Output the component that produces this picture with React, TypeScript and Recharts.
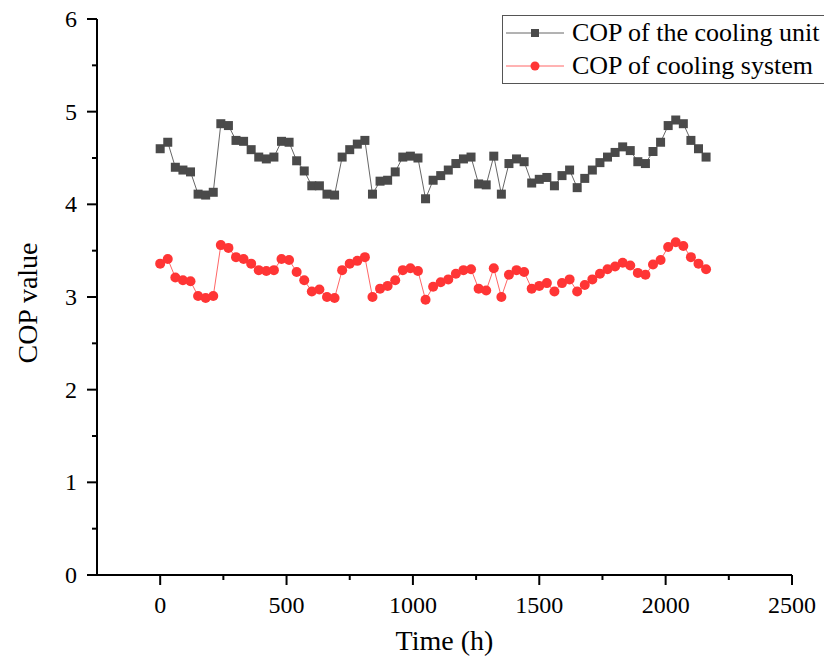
import { LineChart, Line, XAxis, YAxis } from 'recharts';

const times = [
  0, 30, 60, 90, 120, 150, 180, 210, 240, 270, 300, 330, 360, 390, 420, 450, 480, 510, 540, 570,
  600, 630, 660, 690, 720, 750, 780, 810, 840, 870, 900, 930, 960, 990, 1020, 1050, 1080, 1110,
  1140, 1170, 1200, 1230, 1260, 1290, 1320, 1350, 1380, 1410, 1440, 1470, 1500, 1530, 1560, 1590,
  1620, 1650, 1680, 1710, 1740, 1770, 1800, 1830, 1860, 1890, 1920, 1950, 1980, 2010, 2040, 2070,
  2100, 2130, 2160,
];

const copUnit = [
  4.6, 4.67, 4.4, 4.37, 4.35, 4.11, 4.1, 4.13, 4.87, 4.85, 4.69, 4.68, 4.59, 4.51, 4.49, 4.51,
  4.68, 4.67, 4.47, 4.36, 4.2, 4.2, 4.11, 4.1, 4.51, 4.59, 4.65, 4.69, 4.11, 4.25, 4.26, 4.35,
  4.51, 4.52, 4.5, 4.06, 4.26, 4.31, 4.37, 4.44, 4.49, 4.51, 4.22, 4.21, 4.52, 4.11, 4.44, 4.49,
  4.46, 4.23, 4.27, 4.29, 4.2, 4.31, 4.37, 4.18, 4.28, 4.37, 4.45, 4.51, 4.56, 4.62, 4.58, 4.46,
  4.44, 4.57, 4.67, 4.85, 4.91, 4.87, 4.69, 4.6, 4.51,
];

const copSystem = [
  3.36, 3.41, 3.21, 3.18, 3.17, 3.01, 2.99, 3.01, 3.56, 3.53, 3.43, 3.41, 3.36, 3.29, 3.28, 3.29,
  3.41, 3.4, 3.27, 3.18, 3.06, 3.08, 3.0, 2.99, 3.29, 3.36, 3.39, 3.43, 3.0, 3.09, 3.12, 3.18,
  3.29, 3.31, 3.28, 2.97, 3.11, 3.16, 3.19, 3.25, 3.29, 3.3, 3.09, 3.07, 3.31, 3.0, 3.24, 3.29,
  3.27, 3.09, 3.12, 3.15, 3.06, 3.15, 3.19, 3.06, 3.13, 3.19, 3.25, 3.3, 3.33, 3.37, 3.34, 3.26,
  3.24, 3.35, 3.4, 3.54, 3.59, 3.55, 3.43, 3.36, 3.3,
];

const xTicks = [0, 250, 500, 750, 1000, 1250, 1500, 1750, 2000, 2250, 2500];
const xLabels = [0, 500, 1000, 1500, 2000, 2500];
const yTicks = [0, 0.5, 1, 1.5, 2, 2.5, 3, 3.5, 4, 4.5, 5, 5.5, 6];
const yLabels = [0, 1, 2, 3, 4, 5, 6];

const data = times.map((t, i) => ({ time: t, unit: copUnit[i], system: copSystem[i] }));

const FONT = '"Liberation Serif", "Times New Roman", serif';
const UNIT_COLOR = '#4a4a4a';
const SYSTEM_COLOR = '#ff3535';
const TICK = 10;

const XTick = (props: any) => {
  const { x, y, payload } = props;
  const axisY = y - TICK;
  const major = xLabels.includes(payload.value);
  return (
    <g>
      <line x1={x} x2={x} y1={axisY} y2={axisY + (major ? 10 : 5)} stroke="#000" strokeWidth={2} />
      {major && (
        <text x={x} y={axisY + 38} textAnchor="middle" fontFamily={FONT} fontSize={24} fill="#000">
          {payload.value}
        </text>
      )}
    </g>
  );
};

const YTick = (props: any) => {
  const { x, y, payload } = props;
  const axisX = x + TICK;
  const major = yLabels.includes(payload.value);
  return (
    <g>
      <line x1={axisX - (major ? 10 : 5)} x2={axisX} y1={y} y2={y} stroke="#000" strokeWidth={2} />
      {major && (
        <text x={axisX - 20} y={y + 8} textAnchor="end" fontFamily={FONT} fontSize={24} fill="#000">
          {payload.value}
        </text>
      )}
    </g>
  );
};

const XTitle = (props: any) => {
  const { viewBox } = props;
  return (
    <text
      x={viewBox.x + viewBox.width / 2}
      y={viewBox.y + 65}
      textAnchor="middle"
      dominantBaseline="central"
      fontFamily={FONT}
      fontSize={28}
      fill="#000"
    >
      Time (h)
    </text>
  );
};

const YTitle = (props: any) => {
  const { viewBox } = props;
  const cy = viewBox.y + viewBox.height / 2 + 6;
  return (
    <text
      x={27}
      y={cy}
      transform={`rotate(-90, 27, ${cy})`}
      textAnchor="middle"
      dominantBaseline="central"
      fontFamily={FONT}
      fontSize={28}
      fill="#000"
    >
      COP value
    </text>
  );
};

const SquareDot = (props: any) => {
  const { cx, cy } = props;
  return <rect x={cx - 4.5} y={cy - 4.5} width={9} height={9} fill={UNIT_COLOR} />;
};

const CircleDot = (props: any) => {
  const { cx, cy } = props;
  return <circle cx={cx} cy={cy} r={5} fill={SYSTEM_COLOR} />;
};

const legendItems = [
  { label: 'COP of the cooling unit', color: UNIT_COLOR, line: '#666', square: true },
  { label: 'COP of cooling system', color: SYSTEM_COLOR, line: '#ff6666', square: false },
];

const LegendBox = () => (
  <div
    style={{
      position: 'absolute',
      left: 502,
      top: 15,
      border: '1px solid #555',
      borderRight: 'none',
      background: '#fff',
      width: 322,
      height: 69,
      boxSizing: 'border-box',
      fontFamily: FONT,
      fontSize: 26,
      color: '#000',
    }}
  >
    {legendItems.map((item) => (
      <div key={item.label} style={{ display: 'flex', alignItems: 'center', height: 33, whiteSpace: 'nowrap' }}>
        <svg width={69} height={20} style={{ flex: 'none' }}>
          <line x1={3} x2={61} y1={10} y2={10} stroke={item.line} strokeWidth={1} />
          {item.square ? (
            <rect x={28} y={6} width={8} height={8} fill={item.color} />
          ) : (
            <circle cx={32} cy={10} r={4.5} fill={item.color} />
          )}
        </svg>
        <span>{item.label}</span>
      </div>
    ))}
  </div>
);

export default function App() {
  return (
    <div style={{ position: 'relative', width: 824, height: 660, overflow: 'hidden' }}>
      <style>{'body { margin: 0; }'}</style>
      <LineChart width={824} height={660} data={data} margin={{ top: 19, right: 32, left: 0, bottom: 45 }}>
        <XAxis
          dataKey="time"
          type="number"
          domain={[-250, 2500]}
          ticks={xTicks}
          interval={0}
          allowDataOverflow
          height={40}
          tickSize={TICK}
          tickMargin={0}
          tickLine={false}
          tick={<XTick />}
          axisLine={{ stroke: '#000', strokeWidth: 2 }}
          label={<XTitle />}
        />
        <YAxis
          type="number"
          domain={[0, 6]}
          ticks={yTicks}
          interval={0}
          width={97}
          tickSize={TICK}
          tickMargin={0}
          tickLine={false}
          tick={<YTick />}
          axisLine={{ stroke: '#000', strokeWidth: 2 }}
          label={<YTitle />}
        />
        <Line
          dataKey="unit"
          stroke="#666"
          strokeWidth={1}
          dot={<SquareDot />}
          activeDot={false}
          isAnimationActive={false}
        />
        <Line
          dataKey="system"
          stroke="#ff6666"
          strokeWidth={1}
          dot={<CircleDot />}
          activeDot={false}
          isAnimationActive={false}
        />
      </LineChart>
      <LegendBox />
    </div>
  );
}
